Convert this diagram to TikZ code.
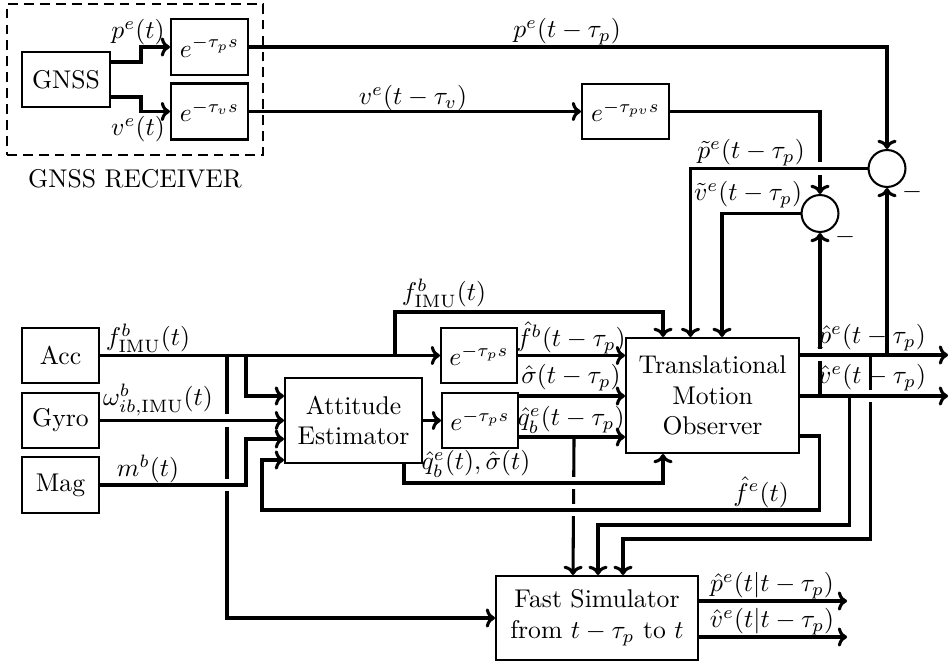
\documentclass[tikz,border=0pt]{standalone}
\usetikzlibrary{calc,arrows.meta}
\begin{document}
\begin{tikzpicture}[x=0.39pt,y=-0.39pt,
  blk/.style={draw, thick, rectangle, inner sep=0pt, align=center},
  wd/.style={minimum width=#1*0.39pt},
  ht/.style={minimum height=#1*0.39pt},
  conn/.style={very thick,-{To[length=3.6pt,width=7.5pt]}},
  wire/.style={very thick},
  sum/.style={draw, thick, circle, minimum size=14.4pt, inner sep=0pt},
  lbl/.style={inner sep=0pt},
  bridge/.style={very thick, preaction={draw=white, line width=5pt}}]
\useasboundingbox (0,0) rectangle (952,664);

% ---------- GNSS receiver ----------
\node[draw,thick,dash pattern=on 3.8pt off 2.4pt,wd=256,ht=151,inner sep=0pt] (rcv) at (135,79.5) {};
\node[blk,wd=88,ht=55] (gnss) at (66,79.5) {GNSS};
\node[blk,wd=77,ht=56] (dp) at (209.5,47) {$e^{-\tau_p s}$};
\node[blk,wd=77,ht=56] (dv) at (209.5,111.5) {$e^{-\tau_v s}$};
\node[lbl] (rcvl) at (135,179) {GNSS RECEIVER};
\node[blk,wd=87,ht=55] (dpv) at (625.5,111.5) {$e^{-\tau_{pv} s}$};
\node[sum] (sp) at (887,168.5) {};
\node[sum] (sv) at (820,213.5) {};
\node[lbl] (mp) at (912,192) {$-$};
\node[lbl] (mv) at (845,237) {$-$};

% ---------- lower blocks ----------
\node[blk,wd=77,ht=55] (acc) at (60.5,355.5) {Acc};
\node[blk,wd=77,ht=55] (gyro) at (60.5,420.5) {Gyro};
\node[blk,wd=77,ht=56] (mag) at (60.5,485) {Mag};
\node[blk,wd=137,ht=85] (ae) at (353.5,420.5) {Attitude\\Estimator};
\node[blk,wd=76,ht=55] (d1) at (479,355.5) {$e^{-\tau_p s}$};
\node[blk,wd=76,ht=55] (d2) at (480,420.5) {$e^{-\tau_p s}$};
\node[blk,wd=173,ht=115] (tmo) at (712.5,395.5) {Translational\\Motion\\Observer};
\node[blk,wd=202,ht=84] (fs) at (597,618) {Fast Simulator\\from $t-\tau_p$ to $t$};

% ---------- helper coordinates ----------
\coordinate (br1) at ($(acc.east)+(127,0)$);
\coordinate (br2) at ($(acc.east)+(146,0)$);
\coordinate (br3) at ($(acc.east)+(295,0)$);
\coordinate (s1) at ($(d2.east)+(0,-24.5)$);
\coordinate (q1) at ($(d2.east)+(0,16.5)$);
\coordinate (qd) at ($(q1)+(55,0)$);
\coordinate (po) at ($(tmo.east)+(0,-40.5)$);
\coordinate (vo) at ($(tmo.east)+(0,0.5)$);
\coordinate (pd) at ($(po)+(70,0)$);
\coordinate (vd) at ($(vo)+(49,0)$);
\coordinate (fe) at ($(tmo.east)+(0,40.5)$);
\coordinate (ff) at ($(fe)+(19,74)$);
\coordinate (fb) at ($(ae.west)+(0,39.5)$);
\coordinate (aq) at ($(ae.south)+(50.5,0)$);
\coordinate (aqb) at ($(aq)+(0,19)$);
\coordinate (fpo) at ($(fs.east)+(0,-17)$);
\coordinate (fvo) at ($(fs.east)+(0,19)$);

% ---------- GNSS connectors ----------
\draw[conn] ($(gnss.east)+(0,-17.5)$) -- ++(30,0) |- (dp.west);
\draw[conn] ($(gnss.east)+(0,17.5)$) -- ++(30,0) |- (dv.west);
\draw[conn] (dp.east) -| (sp.north);
\draw[conn] (dv.east) -- (dpv.west);
\draw[conn] (dpv.east) -| (sv.north);
\draw[conn] (sp.west) -| ($(tmo.north)+(-22,0)$);
\draw[conn] (sv.west) -| ($(tmo.north)+(9.5,0)$);

% ---------- sensor connectors ----------
\draw[conn] (acc.east) -- (d1.west);
\draw[conn] (br1) |- (fs.west);
\draw[conn] (br2) |- ($(ae.west)+(0,-24.5)$);
\draw[conn] (br3) -- ++(0,-43.5) -| ($(tmo.north)+(-49.5,0)$);
\draw[conn] (gyro.east) -- (ae.west);
\draw[conn] (mag.east) -- ++(146,0) |- ($(ae.west)+(0,18.5)$);
\draw[conn] (ae.east) -- (d2.west);
\draw[conn] (d1.east) -- (d1.east -| tmo.west);
\draw[conn] (s1) -- (s1 -| tmo.west);
\draw[conn] (q1) -- (q1 -| tmo.west);
\draw[conn] (aq) -- (aqb) -| ($(tmo.south)+(-49.5,0)$);
\draw[conn] (fe) -- ++(19,0) -- (ff) -| ($(fb)+(-22,0)$) -- (fb);
\draw[conn] (qd) -- ($(fs.north)+(-24,0)$);

% ---------- observer outputs ----------
\draw[conn] (po) -- ++(148,0);
\draw[conn] (vo) -- ++(148,0);
\draw[conn] (sp.south |- po) -- (sp.south);
\draw[conn] (sv.south |- vo) -- (sv.south);
\draw[conn] (pd) -- ++(0,184) -| ($(fs.north)+(26,0)$);
\draw[conn] (vd) -- ++(0,129) -| ($(fs.north)+(1,0)$);
\draw[conn] (fpo) -- ++(148,0);
\draw[conn] (fvo) -- ++(148,0);

% ---------- crossings ----------
\draw[bridge] ($(br1 |- gyro.east)+(-8,0)$) -- ($(br1 |- gyro.east)+(8,0)$);
\draw[bridge] ($(br1 |- mag.east)+(-8,0)$) -- ($(br1 |- mag.east)+(8,0)$);
\draw[bridge] ($(qd |- aqb)+(-8,0)$) -- ($(qd |- aqb)+(8,0)$);
\draw[bridge] ($(qd |- ff)+(-8,0)$) -- ($(qd |- ff)+(8,0)$);
\draw[bridge] ($(sv.south |- po)+(-8,0)$) -- ($(sv.south |- po)+(8,0)$);
\draw[bridge] ($(pd |- vo)+(-8,0)$) -- ($(pd |- vo)+(8,0)$);
\draw[bridge] ($(sv.north |- sp.west)+(-8,0)$) -- ($(sv.north |- sp.west)+(8,0)$);

% ---------- labels ----------
\node[lbl] at (138,32) {$p^e(t)$};
\node[lbl] at (138,129) {$v^e(t)$};
\node[lbl] at (567,32) {$p^e(t-\tau_p)$};
\node[lbl] at (413,98) {$v^e(t-\tau_v)$};
\node[lbl] at (751,153) {$\tilde{p}^e(t-\tau_p)$};
\node[lbl] at (748,195) {$\tilde{v}^e(t-\tau_p)$};
\node[lbl] at (148,338) {$f^b_{\mathrm{IMU}}(t)$};
\node[lbl] at (158,400) {$\omega^b_{ib,\mathrm{IMU}}(t)$};
\node[lbl] at (148,469) {$m^b(t)$};
\node[lbl] at (444,293) {$f^b_{\mathrm{IMU}}(t)$};
\node[lbl] at (571,338) {$\hat{f}^b(t-\tau_p)$};
\node[lbl] at (571,378) {$\hat{\sigma}(t-\tau_p)$};
\node[lbl] at (571,420) {$\hat{q}^e_b(t-\tau_p)$};
\node[lbl] at (476,464) {$\hat{q}^e_b(t),\hat{\sigma}(t)$};
\node[lbl] at (761,492) {$\hat{f}^e(t)$};
\node[lbl] at (872,338) {$\hat{p}^e(t-\tau_p)$};
\node[lbl] at (872,378) {$\hat{v}^e(t-\tau_p)$};
\node[lbl] at (772,586) {$\hat{p}^e(t|t-\tau_p)$};
\node[lbl] at (772,622) {$\hat{v}^e(t|t-\tau_p)$};
\end{tikzpicture}
\end{document}
